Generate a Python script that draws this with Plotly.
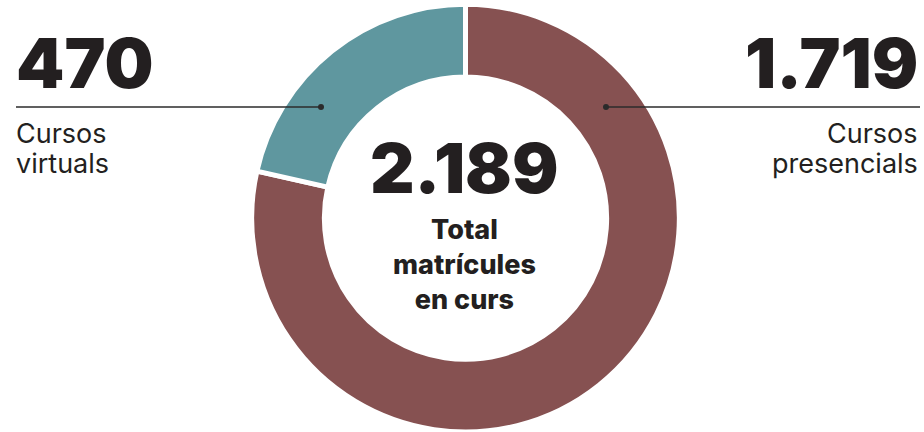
import plotly.graph_objects as go

# data
labels = ['Cursos presencials', 'Cursos virtuals']
values = [1719, 470]
colors = ['#865151', '#5f979f']
total = sum(values)


def fmt(n):
    return f'{n:,}'.replace(',', '.')


W, H = 924, 432


def px(x):
    return x / W


def py(y):
    return 1 - y / H


fig = go.Figure()

fig.add_trace(go.Pie(labels=labels,
                     values=values,
                     hole=0.66,
                     sort=False,
                     direction='clockwise',
                     rotation=0,
                     marker={'colors': colors,
                             'line': {'color': 'white', 'width': 5}},
                     textinfo='none',
                     hoverinfo='label+value',
                     showlegend=False,
                     domain={'x': [px(465.5 - 214), px(465.5 + 214)],
                             'y': [0, 0.99]}))

num_font = {'family': 'Inter, Roboto, sans-serif', 'size': 69, 'color': '#231f20', 'weight': 900}
lab_font = {'family': 'Inter, Roboto, sans-serif', 'size': 27, 'color': '#231f20', 'weight': 400}

# left label (virtuals)
fig.add_annotation(text=fmt(values[1]), x=px(14), y=py(63), xref='paper', yref='paper',
                   xanchor='left', yanchor='middle', showarrow=False, font=num_font)
fig.add_annotation(text='Cursos', x=px(14), y=py(133), xref='paper', yref='paper',
                   xanchor='left', yanchor='middle', showarrow=False, font=lab_font)
fig.add_annotation(text='virtuals', x=px(14), y=py(163), xref='paper', yref='paper',
                   xanchor='left', yanchor='middle', showarrow=False, font=lab_font)

# right label (presencials)
fig.add_annotation(text=fmt(values[0]), x=px(920), y=py(63), xref='paper', yref='paper',
                   xanchor='right', yanchor='middle', showarrow=False, font=num_font)
fig.add_annotation(text='Cursos', x=px(920), y=py(133), xref='paper', yref='paper',
                   xanchor='right', yanchor='middle', showarrow=False, font=lab_font)
fig.add_annotation(text='presencials', x=px(920), y=py(163), xref='paper', yref='paper',
                   xanchor='right', yanchor='middle', showarrow=False, font=lab_font)

# centre total
fig.add_annotation(text=fmt(total), x=px(464), y=py(168), xref='paper', yref='paper',
                   xanchor='center', yanchor='middle', showarrow=False, font=num_font)
fig.add_annotation(text='Total<br>matrícules<br>en curs', x=px(464), y=py(264), xref='paper', yref='paper',
                   xanchor='center', yanchor='middle', align='center', showarrow=False,
                   font={'family': 'Inter, Roboto, sans-serif', 'size': 27, 'color': '#231f20', 'weight': 800})

# leader lines
line_col = '#2b2b2b'
for x0, x1 in [(16, 321), (606, 920)]:
    fig.add_shape(type='line', xref='paper', yref='paper',
                  x0=px(x0), x1=px(x1), y0=py(107), y1=py(107),
                  line={'color': line_col, 'width': 1.5})
for cx in [321, 606]:
    fig.add_shape(type='circle', xref='paper', yref='paper',
                  x0=px(cx - 3), x1=px(cx + 3), y0=py(104), y1=py(110),
                  fillcolor=line_col, line={'width': 0})

fig.update_layout(width=W, height=H,
                  margin={'l': 0, 'r': 0, 't': 0, 'b': 0},
                  paper_bgcolor='white',
                  plot_bgcolor='white')

fig.write_html('out.html', config={'displayModeBar': False},
               post_script="document.body.style.margin='0';")
